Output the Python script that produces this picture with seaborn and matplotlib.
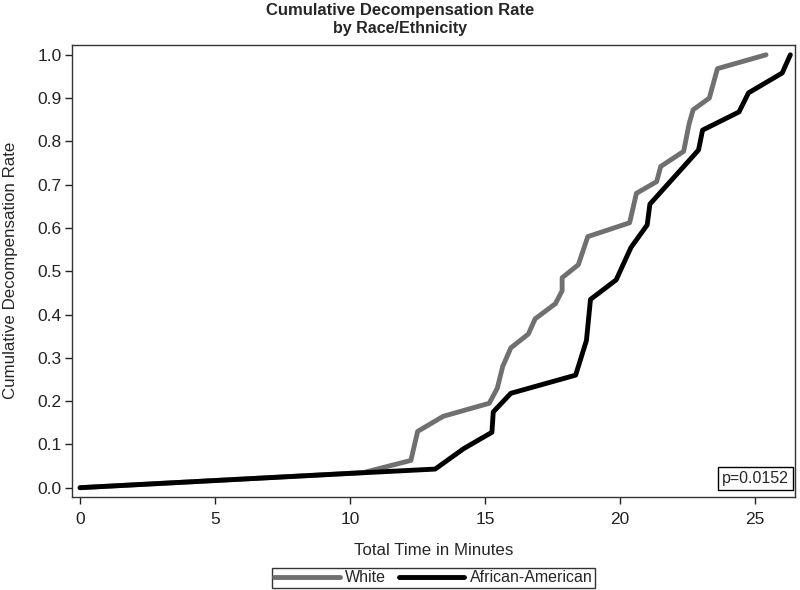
import seaborn as sns
import matplotlib.pyplot as plt
import pandas as pd
from matplotlib.lines import Line2D

# Curve points (minutes, cumulative rate)
white_time = [0, 10.5, 12.25, 12.5, 13.45, 15.15, 15.45, 15.65, 15.95, 16.6, 16.85,
              17.6, 17.85, 17.85, 18.45, 18.8, 20.35, 20.6, 21.35, 21.5, 22.35,
              22.55, 22.7, 23.3, 23.6, 25.4]
white_rate = [0.0, 0.035, 0.063, 0.13, 0.165, 0.195, 0.23, 0.28, 0.323, 0.355, 0.39,
              0.425, 0.455, 0.485, 0.515, 0.58, 0.612, 0.68, 0.707, 0.742, 0.777,
              0.84, 0.873, 0.9, 0.968, 1.0]

black_time = [0, 10, 13.15, 14.2, 15.25, 15.3, 15.95, 18.35, 18.75, 18.9, 19.85,
              20.4, 21.0, 21.1, 22.9, 23.05, 24.4, 24.75, 26.0, 26.3]
black_rate = [0.0, 0.033, 0.043, 0.09, 0.128, 0.175, 0.218, 0.26, 0.34, 0.435, 0.48,
              0.555, 0.607, 0.655, 0.78, 0.826, 0.868, 0.912, 0.958, 1.0]

groups = ["White", "African-American"]
colors = ["#707070", "#000000"]
p_text = "p=0.0152"
x_ticks = [0, 5, 10, 15, 20, 25]
y_ticks = [0.0, 0.1, 0.2, 0.3, 0.4, 0.5, 0.6, 0.7, 0.8, 0.9, 1.0]

df = pd.concat([
    pd.DataFrame({"Time": white_time, "Rate": white_rate, "Group": groups[0]}),
    pd.DataFrame({"Time": black_time, "Rate": black_rate, "Group": groups[1]}),
], ignore_index=True)

sns.set_style("ticks")
plt.rcParams["font.family"] = ["Liberation Sans", "DejaVu Sans"]

fig = plt.figure(figsize=(8, 5.9), dpi=100)
ax = fig.add_axes([0.0896, 0.158, 0.9044, 0.766])

sns.lineplot(data=df, x="Time", y="Rate", hue="Group", palette=colors,
             estimator=None, sort=False, linewidth=3.5, legend=False, ax=ax)

ax.set_xlim(-0.31, 26.48)
ax.set_ylim(-0.021, 1.023)
ax.set_xticks(x_ticks)
ax.set_yticks(y_ticks)
ax.set_yticklabels([f"{v:.1f}" for v in y_ticks])
ax.tick_params(direction="out", length=5, width=1, labelsize=12.5, colors="#222222")
ax.tick_params(axis="x", pad=6)
ax.tick_params(axis="y", pad=2)
for s in ax.spines.values():
    s.set_visible(True)
    s.set_linewidth(1)
    s.set_color("#333333")

ax.set_xlabel("Total Time in Minutes", fontsize=12.2)
ax.set_ylabel("Cumulative Decompensation Rate", fontsize=12.2)
ax.xaxis.set_label_coords(0.5, -0.119)
ax.yaxis.set_label_coords(-0.085, 0.5)
ax.xaxis.label.set_va("center")
ax.yaxis.label.set_va("center")

ax.text(0.991, 0.041, p_text, transform=ax.transAxes, ha="right", va="center",
        fontsize=11.5, bbox=dict(boxstyle="square,pad=0.25", fc="white", ec="black", lw=1))

fig.text(0.5, 0.983, "Cumulative Decompensation Rate", ha="center", va="center",
         fontsize=12, fontweight="bold")
fig.text(0.5, 0.951, "by Race/Ethnicity", ha="center", va="center",
         fontsize=11.5, fontweight="bold")

handles = [Line2D([0], [0], color=c, lw=3.5) for c in colors]
leg = ax.legend(handles, groups, loc="center", bbox_to_anchor=(0.5, -0.179), ncol=2,
                frameon=True, fancybox=False, fontsize=11.5, handlelength=4.1,
                handletextpad=0.35, columnspacing=0.8, borderpad=0.15,
                borderaxespad=0)
leg.get_frame().set_edgecolor("black")
leg.get_frame().set_linewidth(1)

fig.savefig("out.png", dpi=100)
